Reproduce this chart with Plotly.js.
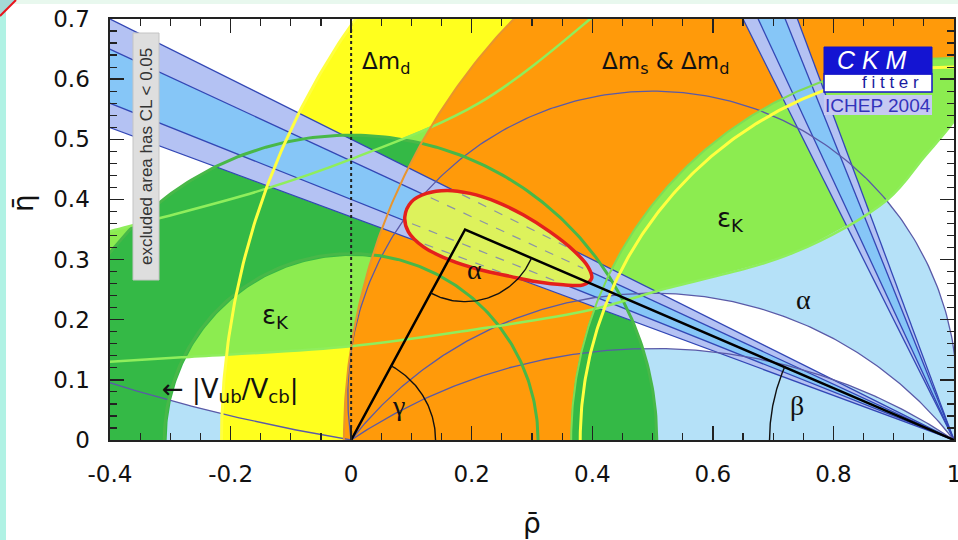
<!DOCTYPE html>
<html><head><meta charset="utf-8">
<script src="https://cdn.plot.ly/plotly-3.0.1.min.js"></script>
<style>html,body{margin:0;padding:0;background:#fff;}#chart{width:958px;height:540px;}</style>
</head><body><div id="chart"></div>
<script>
// ---------------- values ----------------
const xTickVals = [-0.4, -0.2, 0, 0.2, 0.4, 0.6, 0.8, 1.0];
const xTickText = ['-0.4', '-0.2', '0', '0.2', '0.4', '0.6', '0.8', '1'];
const yTickVals = [0, 0.1, 0.2, 0.3, 0.4, 0.5, 0.6, 0.7];
const yTickText = ['0', '0.1', '0.2', '0.3', '0.4', '0.5', '0.6', '0.7'];

// |Vub/Vcb| : annulus around (0,0) [inner, outer] and its contour lines
const vubRadii = [0.306, 0.507];
const vubLineRadii = [0.310, 0.507];
// Δm_d : annulus around (1,0) [inner, outer]
const dmdRadii = [0.628, 1.215];
// Δm_s & Δm_d : annulus around (1,0) [inner, outer]
const dmsRadii = [0.636, 1.012];
// εK band : lower and upper boundary
const epsLowRho = [-0.45, -0.40, -0.281, 0.0, 0.20, 0.396, 0.512, 0.733, 0.89, 0.95, 1.0, 1.03];
const epsLowEta = [0.127, 0.130, 0.1375, 0.156, 0.183, 0.216, 0.249, 0.311, 0.40, 0.47, 0.53, 0.58];
const epsUpRho = [-0.45, -0.40, -0.317, -0.15, 0.0, 0.212, 0.394, 0.45, 0.50];
const epsUpEta = [0.335, 0.347, 0.369, 0.415, 0.467, 0.560, 0.698, 0.75, 0.82];
// sin2β : tan β of the four band edges (two solutions share them)
const sin2bTan = [0.371, 0.400, 0.464, 0.500];
// α : circles through (0,0) and (1,0), given by the height of their centre
const alphaCentreEta = [3.0, 0.0745, -0.39, -0.746];
// global fit : 95% CL contour
const fitRho = [0.089, 0.100, 0.125, 0.159, 0.197, 0.241, 0.286, 0.330, 0.368, 0.393, 0.399, 0.385, 0.352, 0.308, 0.264, 0.214, 0.164, 0.120, 0.095, 0.089];
const fitEta = [0.371, 0.396, 0.410, 0.415, 0.410, 0.396, 0.374, 0.346, 0.316, 0.288, 0.269, 0.258, 0.258, 0.263, 0.272, 0.283, 0.299, 0.321, 0.346, 0.371];
// unitarity triangle apex and angle-arc radii
const apex = [0.189, 0.350];
const angleArcR = [0.12, 0.306, 0.14]; // alpha, beta, gamma

// ---------------- colours ----------------
const C = {
  alphaFill: '#b5e1f8', white: '#ffffff', yellow: '#ffff1e', yellowLine: '#ffff40',
  lightGreen: '#8cec50', epsLine: '#8fee5c', darkGreen: '#34b946', greenLine: '#48b848',
  orange: '#ff9a0a', orangeLine: '#e8952e', lavender: '#b4c2f3', bandBlue: '#86c6f7',
  bandLine: '#3347b5', alphaLine: '#5a5aa8', fit: '#ddf25c', red: '#e4201c'
};

// ---------------- geometry helpers ----------------
const PI = Math.PI;
function arc(cx, cy, r, a0, a1, n) {
  n = n || 200; const xs = [], ys = [];
  for (let i = 0; i <= n; i++) { const t = a0 + (a1 - a0) * i / n; xs.push(cx + r * Math.cos(t)); ys.push(cy + r * Math.sin(t)); }
  return [xs, ys];
}
function annulus(cx, cy, r1, r2) {
  const o = arc(cx, cy, r2, 0, PI), i = arc(cx, cy, r1, PI, 0);
  return [o[0].concat(i[0]), o[1].concat(i[1])];
}
function alphaCircle(cy) {
  const r = Math.sqrt(0.25 + cy * cy), t0 = Math.atan2(-cy, 0.5);
  return arc(0.5, cy, r, t0, PI - t0, 240);
}
function alphaLeft(cy) {
  const r = Math.sqrt(0.25 + cy * cy);
  const ta = Math.atan2(-cy, -0.5);
  const yb = cy - Math.sqrt(r * r - 1.0);
  const tb = Math.atan2(yb - cy, -1.0);
  return arc(0.5, cy, r, ta, tb, 120);
}
function insidePoly(px, py, xs, ys) {
  let inside = false;
  for (let i = 0, j = xs.length - 1; i < xs.length; j = i++) {
    if (((ys[i] > py) !== (ys[j] > py)) && (px < (xs[j] - xs[i]) * (py - ys[i]) / (ys[j] - ys[i]) + xs[i])) inside = !inside;
  }
  return inside;
}
function fillTrace(xy, color) {
  return { x: xy[0], y: xy[1], mode: 'lines', fill: 'toself', fillcolor: color, line: { width: 0, color: color }, hoverinfo: 'skip', type: 'scatter' };
}
function lineTrace(xy, color, width, dash, shape) {
  return { x: xy[0], y: xy[1], mode: 'lines', line: { color: color, width: width, dash: dash || 'solid', shape: shape || 'linear' }, hoverinfo: 'skip', type: 'scatter', connectgaps: false };
}
function joinSegs(segs) {
  const xs = [], ys = [];
  segs.forEach(s => { xs.push(...s[0], null); ys.push(...s[1], null); });
  return [xs, ys];
}

const traces = [];
// α constraint (bottom layer)
const aL = alphaLeft(alphaCentreEta[0]);
traces.push(fillTrace([aL[0].concat([-0.5, 0]), aL[1].concat([0, 0])], C.alphaFill));
traces.push(fillTrace(alphaCircle(alphaCentreEta[1]), C.alphaFill));
traces.push(fillTrace(alphaCircle(alphaCentreEta[2]), C.white));
traces.push(fillTrace(alphaCircle(alphaCentreEta[3]), C.alphaFill));
// Δm_d
traces.push(fillTrace(annulus(1, 0, dmdRadii[0], dmdRadii[1]), C.yellow));
// εK (closed outside the frame, top right)
traces.push({ x: epsLowRho.concat([1.1, 1.1, 0.6], epsUpRho.slice().reverse()),
  y: epsLowEta.concat([0.72, 1.0, 1.0], epsUpEta.slice().reverse()),
  mode: 'lines', fill: 'toself', fillcolor: C.lightGreen, line: { width: 0, color: C.lightGreen, shape: 'spline', smoothing: 0.6 }, hoverinfo: 'skip', type: 'scatter' });
// |Vub/Vcb|
traces.push(fillTrace(annulus(0, 0, vubRadii[0], vubRadii[1]), C.darkGreen));
// Δm_s & Δm_d
traces.push(fillTrace(annulus(1, 0, dmsRadii[0], dmsRadii[1]), C.orange));
// sin2β bands (two solutions)
function band1(ta, tb) { return [[-0.5, 1, -0.5], [1.5 * ta, 0, 1.5 * tb]]; }
function band2(ta, tb) { return [[1 - 0.8 * ta, 1, 1 - 0.8 * tb], [0.8, 0, 0.8]]; }
traces.push(fillTrace(band1(sin2bTan[0], sin2bTan[3]), C.lavender));
traces.push(fillTrace(band1(sin2bTan[1], sin2bTan[2]), C.bandBlue));
traces.push(fillTrace(band2(sin2bTan[0], sin2bTan[3]), C.lavender));
traces.push(fillTrace(band2(sin2bTan[1], sin2bTan[2]), C.bandBlue));
// band edge lines
const bandSegs = [];
sin2bTan.forEach(t => { bandSegs.push([[-0.5, 1], [1.5 * t, 0]]); bandSegs.push([[1 - 0.8 * t, 1], [0.8, 0]]); });
traces.push(lineTrace(joinSegs(bandSegs), C.bandLine, 1.3));
// α arcs
traces.push(lineTrace(joinSegs([aL, alphaCircle(alphaCentreEta[1]), alphaCircle(alphaCentreEta[2]), alphaCircle(alphaCentreEta[3])]), C.alphaLine, 1.3));
// |Vub| contour lines
traces.push(lineTrace(joinSegs(vubLineRadii.map(r => arc(0, 0, r, 0, PI))), C.greenLine, 3));
// εK contour lines
traces.push(lineTrace([epsLowRho, epsLowEta], C.epsLine, 2.5, 'solid', 'spline'));
traces.push(lineTrace([epsUpRho, epsUpEta], C.epsLine, 2.5, 'solid', 'spline'));
// Δm contour lines
traces.push(lineTrace(arc(1, 0, dmsRadii[1], PI / 2, PI), C.orangeLine, 2));
traces.push(lineTrace(arc(1, 0, dmsRadii[0] - 0.001, PI / 2, PI), '#7fdc55', 2));
traces.push(lineTrace(joinSegs([arc(1, 0, dmdRadii[0] - 0.008, PI / 2, PI), arc(1, 0, dmdRadii[1], PI / 2, PI)]), C.yellowLine, 3));
// ρ = 0 dotted line
traces.push(lineTrace([[0, 0], [0, 0.7]], '#222', 2, 'dot'));
// global fit
traces.push({ x: fitRho, y: fitEta, mode: 'lines', fill: 'toself', fillcolor: C.fit, line: { width: 0, color: C.fit, shape: 'spline' }, hoverinfo: 'skip', type: 'scatter' });
const dashSegs = [];
sin2bTan.forEach(t => {
  let lo = null, hi = null;
  for (let x = 0; x <= 0.5; x += 0.001) { if (insidePoly(x, t * (1 - x), fitRho, fitEta)) { if (lo === null) lo = x; hi = x; } }
  if (lo !== null && hi - lo > 0.03) dashSegs.push([[lo + 0.01, hi - 0.01], [t * (1 - lo - 0.01), t * (1 - hi + 0.01)]]);
});
traces.push(lineTrace(joinSegs(dashSegs), '#8a93a8', 1.2, 'dash'));
traces.push({ x: fitRho, y: fitEta, mode: 'lines', line: { width: 3.5, color: C.red, shape: 'spline' }, hoverinfo: 'skip', type: 'scatter' });
// unitarity triangle
traces.push(lineTrace([[0, apex[0], 1], [0, apex[1], 0]], '#000', 2.5));
const tO = Math.atan2(-apex[1], -apex[0]), t1 = Math.atan2(-apex[1], 1 - apex[0]);
traces.push(lineTrace(joinSegs([
  arc(apex[0], apex[1], angleArcR[0], tO, t1, 80),
  arc(1, 0, angleArcR[1], PI, PI + t1, 60),
  arc(0, 0, angleArcR[2], 0, Math.atan2(apex[1], apex[0]), 60)
]), '#111', 1.4));

// ---------------- layout ----------------
const PX = px => (px - 110) / 844;      // page pixel -> paper x
const PY = py => (440 - py) / 421;      // page pixel -> paper y
const sans = 'DejaVu Sans', serif = 'Liberation Serif';
function lab(x, y, text, size, fam, extra) {
  return Object.assign({ x: x, y: y, xref: 'x', yref: 'y', text: text, showarrow: false, xanchor: 'center', yanchor: 'middle',
    font: { family: fam || sans, size: size, color: '#111' } }, extra || {});
}
const annotations = [
  lab(0.058, 0.627, 'Δm<sub>d</sub>', 23),
  lab(0.521, 0.627, 'Δm<sub>s</sub> & Δm<sub>d</sub>', 23),
  lab(0.630, 0.366, 'ε<sub>K</sub>', 26),
  lab(-0.126, 0.205, 'ε<sub>K</sub>', 26),
  lab(-0.317, 0.083, '← |V<sub>ub</sub>/V<sub>cb</sub>|', 26, sans, { xanchor: 'left' }),
  lab(0.205, 0.283, 'α', 28, serif),
  lab(0.078, 0.058, 'γ', 28, serif),
  lab(0.740, 0.058, 'β', 28, serif),
  lab(0.751, 0.233, 'α', 28, serif),
  { x: PX(146), y: PY(157), xref: 'paper', yref: 'paper', text: 'excluded area has CL < 0.05', textangle: -90, showarrow: false,
    font: { family: 'Liberation Sans', size: 17, color: '#333' }, xanchor: 'center', yanchor: 'middle' },
  { x: PX(872), y: PY(60), xref: 'paper', yref: 'paper', text: '<i>C K M</i>', showarrow: false,
    font: { family: 'Liberation Sans', size: 25, color: '#ffffff' }, xanchor: 'center', yanchor: 'middle' },
  { x: PX(890), y: PY(83), xref: 'paper', yref: 'paper', text: 'f i t t e r', showarrow: false,
    font: { family: 'Liberation Sans', size: 17, color: '#1a1aa0' }, xanchor: 'center', yanchor: 'middle' },
  { x: PX(878), y: PY(105), xref: 'paper', yref: 'paper', text: 'ICHEP 2004', showarrow: false,
    font: { family: 'Liberation Sans', size: 19, color: '#3333bb' }, xanchor: 'center', yanchor: 'middle' },
  // y-axis title (rotated like the reference)
  { x: PX(23), y: PY(203), xref: 'paper', yref: 'paper', text: 'η\u0304', textangle: -90, showarrow: false,
    font: { family: sans, size: 28, color: '#111' }, xanchor: 'center', yanchor: 'middle' }
];
const shapes = [
  // page frame strips
  { type: 'rect', xref: 'paper', yref: 'paper', x0: PX(0), x1: PX(958), y0: PY(4), y1: PY(0), fillcolor: '#e8f8ee', line: { width: 0 }, layer: 'below' },
  { type: 'rect', xref: 'paper', yref: 'paper', x0: PX(0), x1: PX(6), y0: PY(540), y1: PY(0), fillcolor: '#b0f2e4', line: { width: 0 }, layer: 'below' },
  { type: 'path', xref: 'paper', yref: 'paper', path: `M${PX(0)},${PY(0)} L${PX(16)},${PY(0)} L${PX(0)},${PY(16)} Z`, fillcolor: '#a4d8d6', line: { width: 0 } },
  { type: 'line', xref: 'paper', yref: 'paper', x0: PX(0), y0: PY(16), x1: PX(16), y1: PY(0), line: { color: '#e8141c', width: 2 } },
  // excluded-area box
  { type: 'rect', xref: 'paper', yref: 'paper', x0: PX(133), x1: PX(159), y0: PY(280), y1: PY(33), fillcolor: '#dedede', line: { color: '#c4c4c4', width: 1 } },
  // logo
  { type: 'rect', xref: 'paper', yref: 'paper', x0: PX(824), x1: PX(932), y0: PY(115), y1: PY(95), fillcolor: '#c6c9f2', line: { width: 0 } },
  { type: 'rect', xref: 'paper', yref: 'paper', x0: PX(824), x1: PX(932), y0: PY(92), y1: PY(74), fillcolor: '#ffffff', line: { color: '#1414c8', width: 1.5 } },
  { type: 'rect', xref: 'paper', yref: 'paper', x0: PX(824), x1: PX(932), y0: PY(74), y1: PY(47), fillcolor: '#1414d2', line: { color: '#1414c8', width: 1 } }
];

const axisCommon = {
  ticks: 'inside', ticklen: 14, tickwidth: 1.4, tickcolor: '#222', showline: true, linecolor: '#222', linewidth: 1.6,
  mirror: 'allticks', showgrid: false, zeroline: false, fixedrange: true, ticklabeloverflow: 'allow',
  tickfont: { family: sans, size: 23, color: '#111' }
};
const layout = {
  width: 958, height: 540, margin: { l: 110, r: 4, t: 19, b: 100, pad: 0 },
  paper_bgcolor: '#ffffff', plot_bgcolor: '#ffffff', showlegend: false,
  xaxis: Object.assign({}, axisCommon, {
    range: [-0.4, 1.0], tickmode: 'array', tickvals: xTickVals, ticktext: xTickText, ticklabelstandoff: 13,
    minor: { tickmode: 'linear', tick0: 0, dtick: 0.05, ticks: 'inside', ticklen: 7, tickwidth: 1.2, tickcolor: '#222', showgrid: false },
    title: { text: 'ρ\u0304', font: { family: sans, size: 28, color: '#111' }, standoff: 33 }
  }),
  yaxis: Object.assign({}, axisCommon, {
    range: [0, 0.7], tickmode: 'array', tickvals: yTickVals, ticktext: yTickText, ticklabelstandoff: 14,
    minor: { tickmode: 'linear', tick0: 0, dtick: 0.02, ticks: 'inside', ticklen: 7, tickwidth: 1.2, tickcolor: '#222', showgrid: false }
  }),
  annotations: annotations, shapes: shapes
};
Plotly.newPlot('chart', traces, layout, { staticPlot: true, displayModeBar: false });
</script></body></html>
